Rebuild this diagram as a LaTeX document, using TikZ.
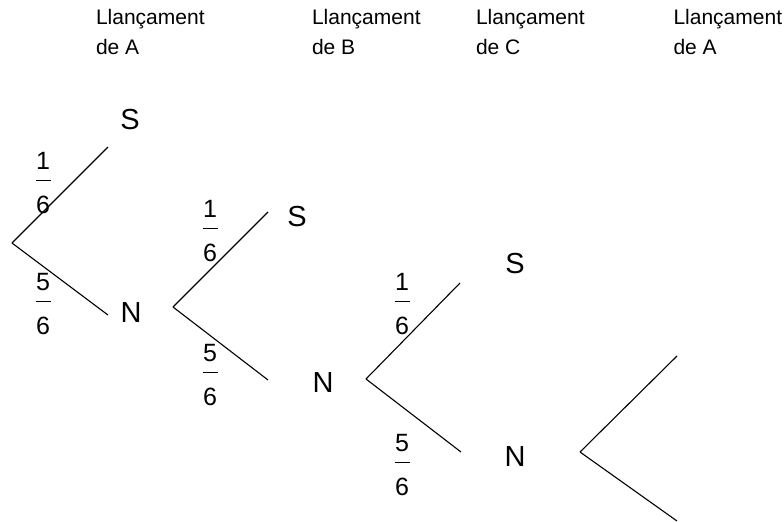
\documentclass[tikz,border=0pt]{standalone}
\usepackage{fontspec}
\setmainfont{Liberation Sans}
\newcommand{\frc}[2]{#1\\\rule[10pt]{15pt}{1.3pt}\\#2}
\begin{document}
\begin{tikzpicture}[x=1pt,y=-1pt,line width=1.1pt,
    every node/.style={inner sep=0pt},
    head/.style={anchor=north west,align=left,font=\fontsize{21}{30}\selectfont},
    lab/.style={font=\fontsize{29}{30}\selectfont},
    frac/.style={align=center,font=\fontsize{25}{22}\selectfont}]
  \useasboundingbox (0,0) rectangle (784,522);
  % headers
  \draw
    (95.5,8.5) node[head] (h1){Llançament\\de A}
    (311.5,8.5) node[head] (h2){Llançament\\de B}
    (475.5,8.5) node[head] (h3){Llançament\\de C}
    (673,8.5) node[head] (h4){Llançament\\de A};
  % branch points
  \draw
    (12,243) coordinate (r1)
    (108,147) coordinate (u1)
    (108,315) coordinate (d1)
    (173,307) coordinate (r2)
    (268,212) coordinate (u2)
    (268,380) coordinate (d2)
    (366,379) coordinate (r3)
    (460,283) coordinate (u3)
    (461,452) coordinate (d3)
    (580,452) coordinate (r4)
    (677,356) coordinate (u4)
    (677,521) coordinate (d4);
  % outcomes and probabilities
  \draw
    (130,120) node[lab] (S1){S}
    (131,313) node[lab] (N1){N}
    (297,217) node[lab] (S2){S}
    (323,383) node[lab] (N2){N}
    (515,264) node[lab] (S3){S}
    (515,457) node[lab] (N3){N}
    (43,183) node[frac] (p1){\frc{1}{6}}
    (43,304) node[frac] (q1){\frc{5}{6}}
    (210,231) node[frac] (p2){\frc{1}{6}}
    (210,375) node[frac] (q2){\frc{5}{6}}
    (402,304) node[frac] (p3){\frc{1}{6}}
    (402,465) node[frac] (q3){\frc{5}{6}};
  \begin{scope}[-]
    \draw (r1) to (u1);
    \draw (r1) to (d1);
    \draw (r2) to (u2);
    \draw (r2) to (d2);
    \draw (r3) to (u3);
    \draw (r3) to (d3);
    \draw (r4) to (u4);
    \draw (r4) to (d4);
  \end{scope}
\end{tikzpicture}
\end{document}
